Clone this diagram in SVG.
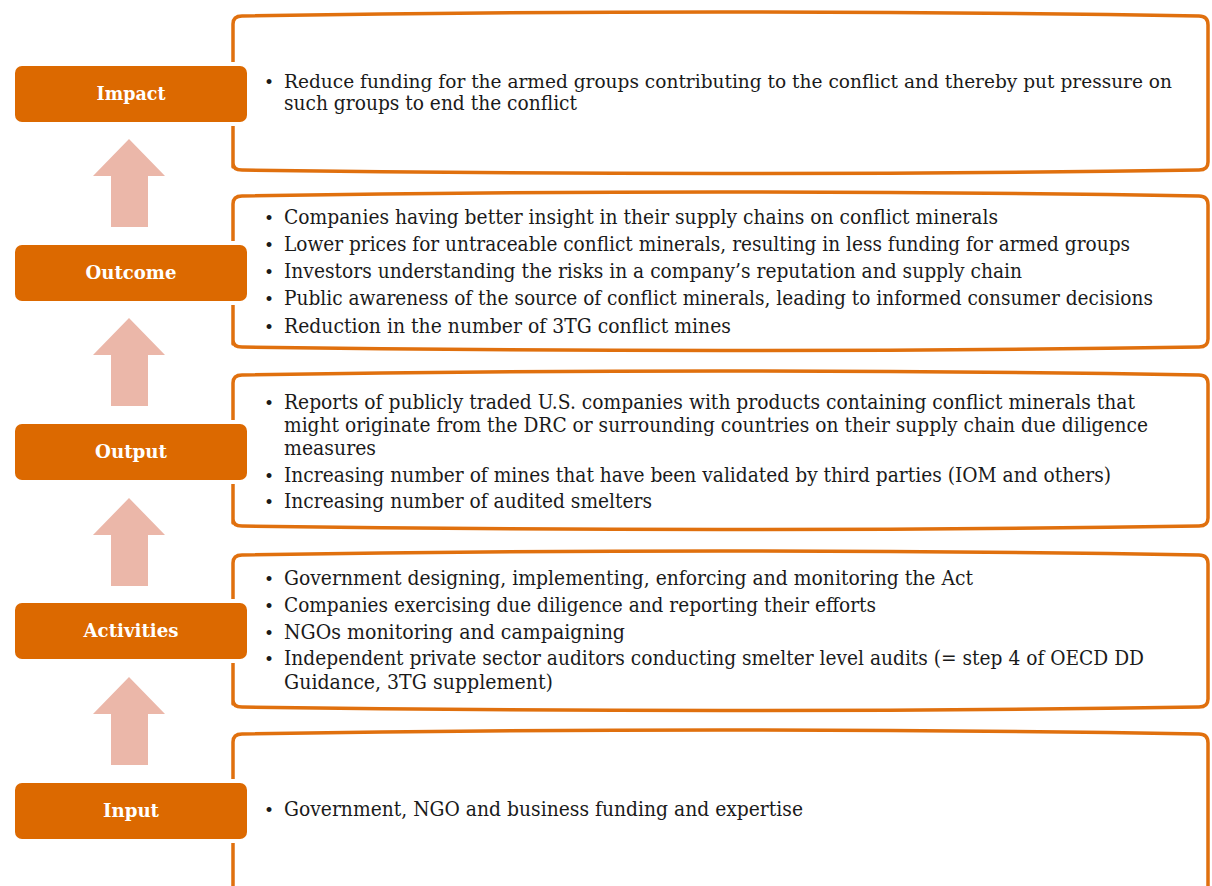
<svg xmlns="http://www.w3.org/2000/svg" width="1212" height="886" viewBox="0 0 1212 886">
<defs>
<style>
.box{fill:#fff;stroke:#E0700E;stroke-width:3.5;stroke-linejoin:round}
.lab{fill:#DC6900;stroke:#fff;stroke-width:8;paint-order:stroke}
.lt{font-family:"DejaVu Serif","Liberation Serif",serif;font-weight:bold;font-size:18px;fill:#fff;text-anchor:middle}
.t{font-family:"DejaVu Serif","Liberation Serif",serif;font-size:19.5px;fill:#1a1a1a}
.s{font-size:18.5px}
.b{font-family:"DejaVu Serif","Liberation Serif",serif;font-size:17px;fill:#1a1a1a}
.arr{fill:#EBB7A9}
</style>
</defs>
<rect width="1212" height="886" fill="#fff"/>

<g id="connectors">
<polygon class="arr" points="129,139 165,176 148,176 148,227 111,227 111,176 93,176"/>
<polygon class="arr" points="129,318 165,355 148,355 148,406 111,406 111,355 93,355"/>
<polygon class="arr" points="129,498 165,535 148,535 148,586 111,586 111,535 93,535"/>
<polygon class="arr" points="129,677 165,714 148,714 148,765 111,765 111,714 93,714"/>
</g>

<g id="impact-box">
<path class="box" d="M233,167 L233,24 Q233,16 242,16 Q721,8 1199,16 Q1208,16 1208,25 L1208,162 Q1208,170 1199,170 Q721,177 242,170 Q233,170 233,163 Z"/>
<text class="b" x="264" y="88">•</text>
<text class="t s" x="284" y="88" textLength="888" lengthAdjust="spacingAndGlyphs">Reduce funding for the armed groups contributing to the conflict and thereby put pressure on</text>
<text class="t" x="284" y="110" textLength="293" lengthAdjust="spacingAndGlyphs">such groups to end the conflict</text>
</g>

<g id="outcome-box">
<path class="box" d="M233,344 L233,204 Q233,196 242,196 Q721,188 1199,196 Q1208,196 1208,205 L1208,339 Q1208,347 1199,347 Q721,354 242,347 Q233,347 233,340 Z"/>
<text class="b" x="264" y="224">•</text>
<text class="t" x="284" y="224" textLength="714" lengthAdjust="spacingAndGlyphs">Companies having better insight in their supply chains on conflict minerals</text>
<text class="b" x="264" y="251">•</text>
<text class="t" x="284" y="251" textLength="846" lengthAdjust="spacingAndGlyphs">Lower prices for untraceable conflict minerals, resulting in less funding for armed groups</text>
<text class="b" x="264" y="278">•</text>
<text class="t" x="284" y="278" textLength="738" lengthAdjust="spacingAndGlyphs">Investors understanding the risks in a company’s reputation and supply chain</text>
<text class="b" x="264" y="305">•</text>
<text class="t" x="284" y="305" textLength="869" lengthAdjust="spacingAndGlyphs">Public awareness of the source of conflict minerals, leading to informed consumer decisions</text>
<text class="b" x="264" y="333">•</text>
<text class="t" x="284" y="333" textLength="447" lengthAdjust="spacingAndGlyphs">Reduction in the number of 3TG conflict mines</text>
</g>

<g id="output-box">
<path class="box" d="M233,523 L233,383 Q233,375 242,375 Q721,367 1199,375 Q1208,375 1208,384 L1208,518 Q1208,526 1199,526 Q721,533 242,526 Q233,526 233,519 Z"/>
<text class="b" x="264" y="409">•</text>
<text class="t" x="284" y="409" textLength="851" lengthAdjust="spacingAndGlyphs">Reports of publicly traded U.S. companies with products containing conflict minerals that</text>
<text class="t" x="284" y="432" textLength="864" lengthAdjust="spacingAndGlyphs">might originate from the DRC or surrounding countries on their supply chain due diligence</text>
<text class="t" x="284" y="455" textLength="92" lengthAdjust="spacingAndGlyphs">measures</text>
<text class="b" x="264" y="482">•</text>
<text class="t" x="284" y="482" textLength="827" lengthAdjust="spacingAndGlyphs">Increasing number of mines that have been validated by third parties (IOM and others)</text>
<text class="b" x="264" y="508">•</text>
<text class="t" x="284" y="508" textLength="368" lengthAdjust="spacingAndGlyphs">Increasing number of audited smelters</text>
</g>

<g id="activities-box">
<path class="box" d="M233,704 L233,563 Q233,555 242,555 Q721,547 1199,555 Q1208,555 1208,564 L1208,699 Q1208,707 1199,707 Q721,714 242,707 Q233,707 233,700 Z"/>
<text class="b" x="264" y="585">•</text>
<text class="t" x="284" y="585" textLength="689" lengthAdjust="spacingAndGlyphs">Government designing, implementing, enforcing and monitoring the Act</text>
<text class="b" x="264" y="612">•</text>
<text class="t" x="284" y="612" textLength="592" lengthAdjust="spacingAndGlyphs">Companies exercising due diligence and reporting their efforts</text>
<text class="b" x="264" y="639">•</text>
<text class="t" x="284" y="639" textLength="341" lengthAdjust="spacingAndGlyphs">NGOs monitoring and campaigning</text>
<text class="b" x="264" y="665">•</text>
<text class="t" x="284" y="665" textLength="860" lengthAdjust="spacingAndGlyphs">Independent private sector auditors conducting smelter level audits (= step 4 of OECD DD</text>
<text class="t" x="284" y="689" textLength="269" lengthAdjust="spacingAndGlyphs">Guidance, 3TG supplement)</text>
</g>

<g id="input-box">
<path class="box" d="M233,900 L233,742 Q233,734 242,734 Q721,726 1199,734 Q1208,734 1208,743 L1208,900"/>
<text class="b" x="264" y="816">•</text>
<text class="t" x="284" y="816" textLength="519" lengthAdjust="spacingAndGlyphs">Government, NGO and business funding and expertise</text>
</g>

<g id="impact">
<rect class="lab" x="15" y="66" width="232" height="56" rx="7"/>
<text class="lt" x="131" y="100" textLength="69" lengthAdjust="spacingAndGlyphs">Impact</text>
</g>
<g id="outcome">
<rect class="lab" x="15" y="245" width="232" height="56" rx="7"/>
<text class="lt" x="131" y="279" textLength="91" lengthAdjust="spacingAndGlyphs">Outcome</text>
</g>
<g id="output">
<rect class="lab" x="15" y="424" width="232" height="56" rx="7"/>
<text class="lt" x="131" y="458" textLength="72" lengthAdjust="spacingAndGlyphs">Output</text>
</g>
<g id="activities">
<rect class="lab" x="15" y="603" width="232" height="56" rx="7"/>
<text class="lt" x="131" y="637" textLength="95" lengthAdjust="spacingAndGlyphs">Activities</text>
</g>
<g id="input">
<rect class="lab" x="15" y="783" width="232" height="56" rx="7"/>
<text class="lt" x="131" y="817" textLength="56" lengthAdjust="spacingAndGlyphs">Input</text>
</g>
</svg>
